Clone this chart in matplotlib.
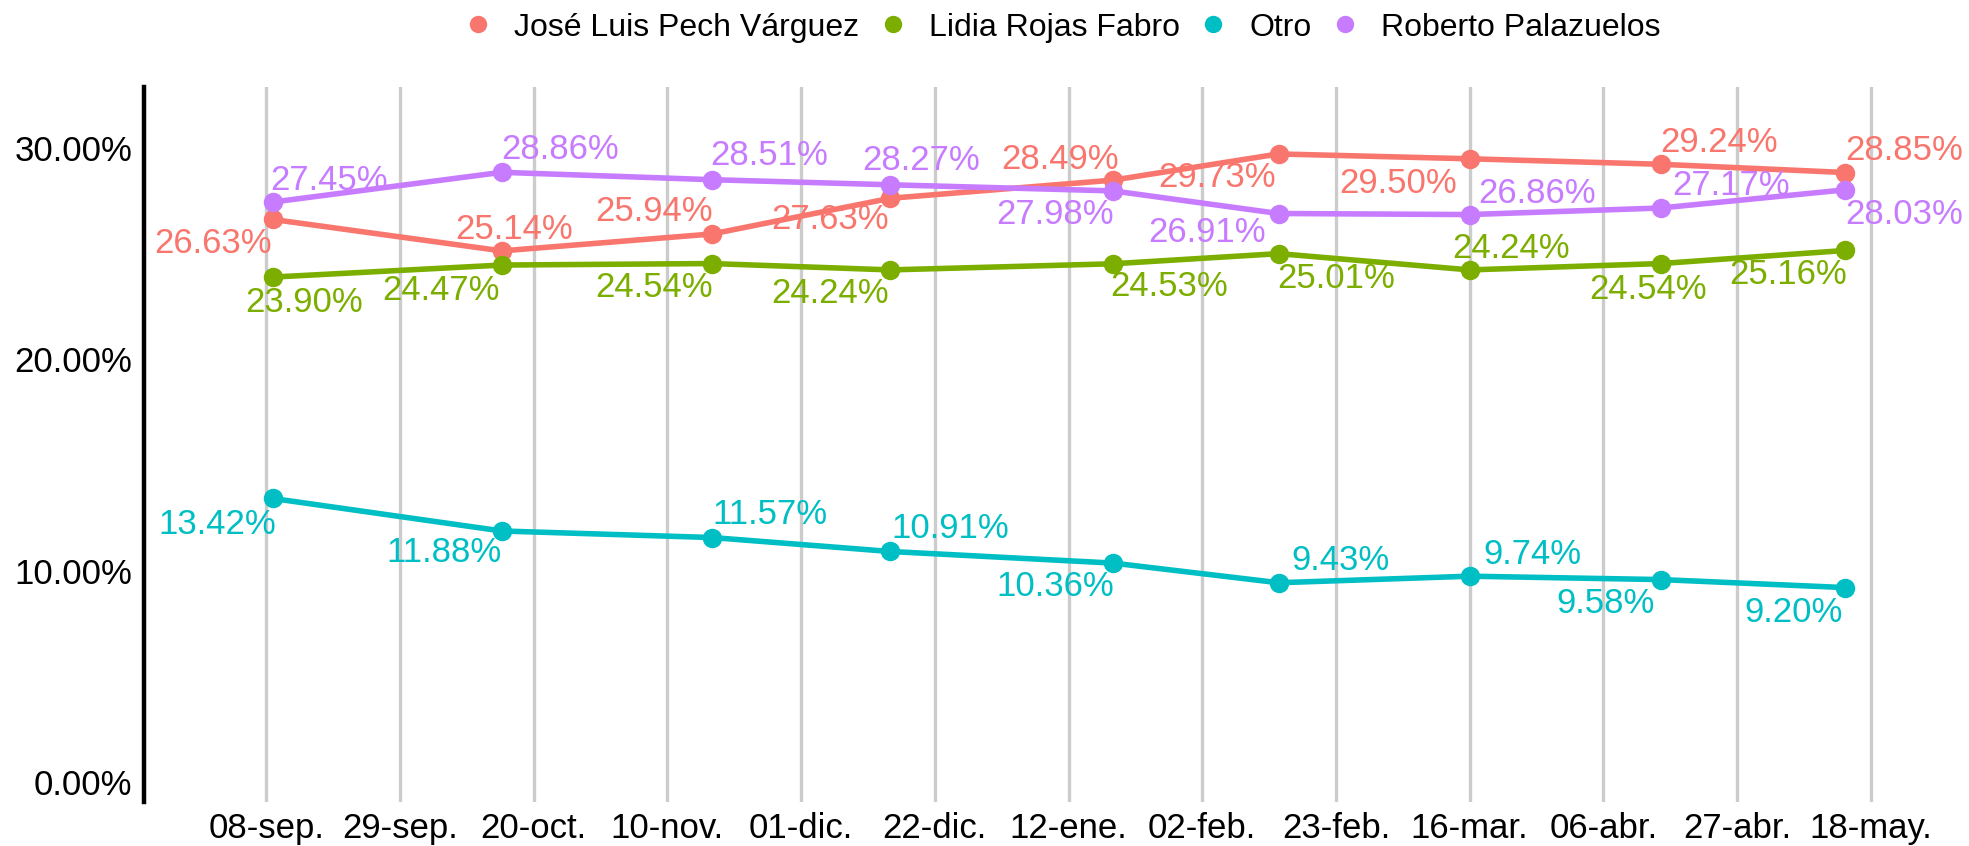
import pandas as pd
import matplotlib
matplotlib.use("Agg")
import matplotlib.pyplot as plt
from matplotlib.lines import Line2D

plt.rcParams['font.family'] = ['Liberation Sans', 'DejaVu Sans']

# Data
fechas = pd.to_datetime(["2020-09-09", "2020-10-15", "2020-11-17", "2020-12-15", "2021-01-19",
                         "2021-02-14", "2021-03-16", "2021-04-15", "2021-05-14"])
pech = [26.63, 25.14, 25.94, 27.63, 28.49, 29.73, 29.50, 29.24, 28.85]
lidia = [23.90, 24.47, 24.54, 24.24, 24.53, 25.01, 24.24, 24.54, 25.16]
otro = [13.42, 11.88, 11.57, 10.91, 10.36, 9.43, 9.74, 9.58, 9.20]
palazuelos = [27.45, 28.86, 28.51, 28.27, 27.98, 26.91, 26.86, 27.17, 28.03]

nombres = ["José Luis Pech Várguez", "Lidia Rojas Fabro", "Otro", "Roberto Palazuelos"]
colores = ["#F8766D", "#7CAE00", "#00BFC4", "#C77CFF"]

tick_fechas = pd.date_range("2020-09-08", "2021-05-18", freq="21D")
tick_labels = ["08-sep.", "29-sep.", "20-oct.", "10-nov.", "01-dic.", "22-dic.", "12-ene.",
               "02-feb.", "23-feb.", "16-mar.", "06-abr.", "27-abr.", "18-may."]
y_ticks = [0, 10, 20, 30]
y_labels = ["0.00%", "10.00%", "20.00%", "30.00%"]

# label offsets (pixels, as placed by the repel in the original)
off_pech = [(-60, -24), (12, 21), (-58, 22), (-60, -21), (-53, 21), (-62, -24), (-72, -25), (58, 22), (59, 22)]
off_lidia = [(32, -25), (-61, -25), (-58, -24), (-60, -24), (56, -23), (58, -25), (41, 21), (-13, -26), (-57, -24)]
off_otro = [(-55, -26), (-58, -22), (58, 23), (60, 23), (-58, -23), (62, 22), (63, 22), (-55, -24), (-52, -25)]
off_pala = [(56, 22), (58, 23), (57, 24), (31, 24), (-58, -24), (-72, -19), (67, 21), (70, 23), (59, -25)]

fig = plt.figure(figsize=(19.69, 8.46), dpi=100)
ax = fig.add_axes([0.0731, 0.052, 0.9045, 0.8452])

series = [pech, lidia, otro, palazuelos]
offsets = [off_pech, off_lidia, off_otro, off_pala]

for vals, col, offs in zip(series, colores, offsets):
    ax.plot(fechas, vals, color=col, linewidth=4.0, marker='o', markersize=13,
            solid_capstyle='round', zorder=3)
    for d, v, (dx, dy) in zip(fechas, vals, offs):
        ax.annotate(f"{v:.2f}%", xy=(d, v), xytext=(dx, dy), textcoords='offset pixels',
                    ha='center', va='center', fontsize=25, color=col, zorder=4)

ax.set_xlim(pd.Timestamp("2020-08-19 19:00"), pd.Timestamp("2021-05-26 12:00"))
ax.set_ylim(-0.95, 32.9)

ax.set_xticks(tick_fechas)
ax.set_xticklabels(tick_labels, fontsize=25)
ax.set_yticks(y_ticks)
ax.set_yticklabels(y_labels, fontsize=25)
ax.tick_params(axis='both', length=0)
ax.tick_params(axis='x', pad=7)
ax.tick_params(axis='y', pad=8.5)

ax.grid(True, axis='x', color='#CCCCCC', linewidth=2.4)
ax.grid(False, axis='y')
ax.set_axisbelow(True)

for s in ['top', 'right', 'bottom']:
    ax.spines[s].set_visible(False)
ax.spines['left'].set_linewidth(3.2)
ax.spines['left'].set_color('black')

handles = [Line2D([], [], linestyle='none', marker='o', markersize=11.5, color=c) for c in colores]
fig.legend(handles, nombres, loc='center', bbox_to_anchor=(0.5411, 0.9674), ncol=4, frameon=False,
           fontsize=23, handlelength=0.5, handletextpad=0.88, columnspacing=0.8,
           borderpad=0, borderaxespad=0)

fig.savefig("out.png", dpi=100)
